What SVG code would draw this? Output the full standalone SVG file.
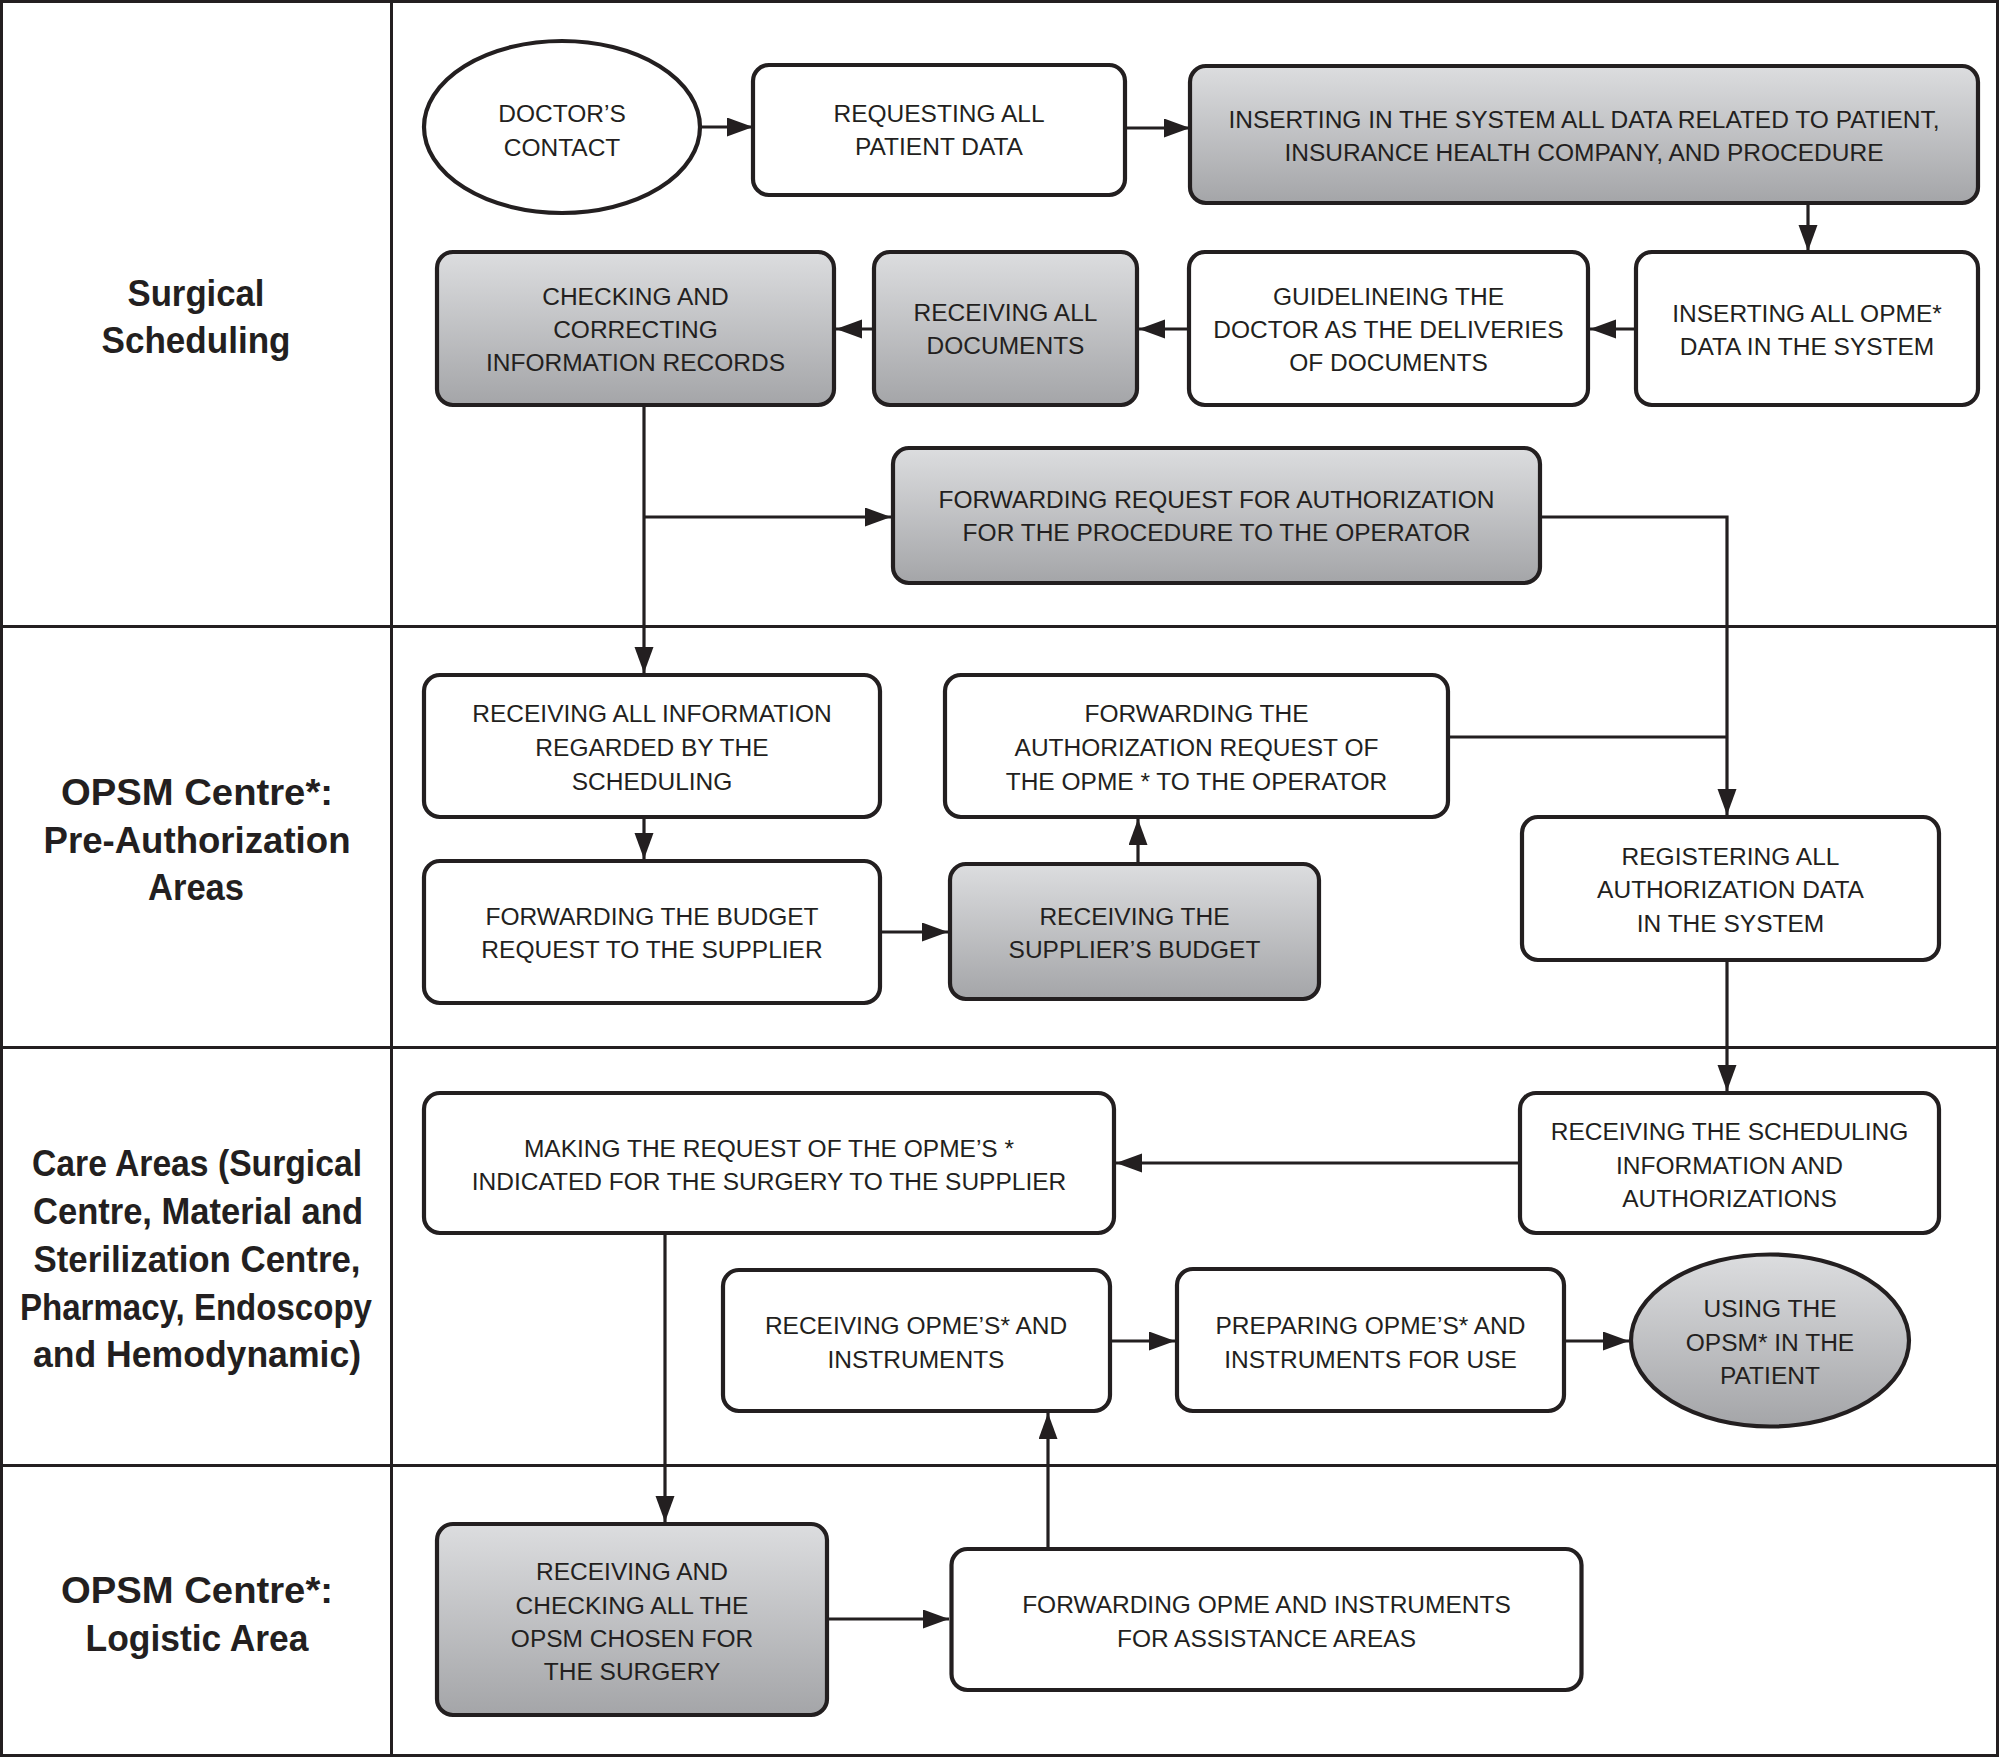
<svg xmlns="http://www.w3.org/2000/svg" width="2000" height="1759" viewBox="0 0 2000 1759">
<defs>
<linearGradient id="gray" x1="0" y1="0" x2="0" y2="1">
<stop offset="0" stop-color="#dcdddf"/>
<stop offset="1" stop-color="#a4a5a8"/>
</linearGradient>
<marker id="arr" markerUnits="userSpaceOnUse" markerWidth="27" markerHeight="20" refX="26" refY="9.5" orient="auto">
<path d="M0,0 L26,9.5 L0,19 z" fill="#231f20"/>
</marker>
<style>
.lane{fill:none;stroke:#231f20;stroke-width:3}
.box{fill:#fff;stroke:#231f20;stroke-width:4.2}
.gbox{fill:url(#gray);stroke:#231f20;stroke-width:4.2}
.t{font-family:"Liberation Sans",Arial,sans-serif;font-size:24.5px;fill:#231f20;text-anchor:middle}
.lbl{font-family:"Liberation Sans",Arial,sans-serif;font-size:37px;font-weight:bold;fill:#231f20;text-anchor:middle}
.c{fill:none;stroke:#231f20;stroke-width:3.2}
.ca{fill:none;stroke:#231f20;stroke-width:3.2;marker-end:url(#arr)}
</style>
</defs>
<rect width="2000" height="1759" fill="#fff"/>
<g id="lanes">
<rect class="lane" x="1.5" y="1.5" width="1996" height="1754"/>
<line class="lane" x1="391.5" y1="1.5" x2="391.5" y2="1755.5"/>
<line class="lane" x1="1.5" y1="626.5" x2="1997.5" y2="626.5"/>
<line class="lane" x1="1.5" y1="1047.5" x2="1997.5" y2="1047.5"/>
<line class="lane" x1="1.5" y1="1465.5" x2="1997.5" y2="1465.5"/>
<text class="lbl" x="196" y="306" textLength="137" lengthAdjust="spacingAndGlyphs">Surgical</text>
<text class="lbl" x="196" y="353" textLength="189" lengthAdjust="spacingAndGlyphs">Scheduling</text>
<text class="lbl" x="197" y="805" textLength="272" lengthAdjust="spacingAndGlyphs">OPSM Centre*:</text>
<text class="lbl" x="197" y="853" textLength="307" lengthAdjust="spacingAndGlyphs">Pre-Authorization</text>
<text class="lbl" x="196" y="900" textLength="96" lengthAdjust="spacingAndGlyphs">Areas</text>
<text class="lbl" x="197" y="1176" textLength="330" lengthAdjust="spacingAndGlyphs">Care Areas (Surgical</text>
<text class="lbl" x="198" y="1224" textLength="330" lengthAdjust="spacingAndGlyphs">Centre, Material and</text>
<text class="lbl" x="197" y="1272" textLength="327" lengthAdjust="spacingAndGlyphs">Sterilization Centre,</text>
<text class="lbl" x="196" y="1320" textLength="352" lengthAdjust="spacingAndGlyphs">Pharmacy, Endoscopy</text>
<text class="lbl" x="197" y="1367" textLength="328" lengthAdjust="spacingAndGlyphs">and Hemodynamic)</text>
<text class="lbl" x="197" y="1603" textLength="272" lengthAdjust="spacingAndGlyphs">OPSM Centre*:</text>
<text class="lbl" x="197" y="1651" textLength="223" lengthAdjust="spacingAndGlyphs">Logistic Area</text>
</g>
<g id="connectors">
<line class="ca" x1="700" y1="127" x2="753" y2="127"/>
<line class="ca" x1="1125" y1="128" x2="1190" y2="128"/>
<line class="ca" x1="1808" y1="203" x2="1808" y2="251"/>
<line class="ca" x1="1636" y1="329" x2="1590" y2="329"/>
<line class="ca" x1="1189" y1="329" x2="1139" y2="329"/>
<line class="ca" x1="874" y1="329" x2="836" y2="329"/>
<line class="ca" x1="644" y1="405" x2="644" y2="673"/>
<line class="ca" x1="644" y1="517" x2="891" y2="517"/>
<polyline class="ca" points="1540,517 1727,517 1727,815"/>
<line class="c" x1="1448" y1="737" x2="1727" y2="737"/>
<line class="ca" x1="644" y1="817" x2="644" y2="859"/>
<line class="ca" x1="880" y1="932" x2="948" y2="932"/>
<line class="ca" x1="1138" y1="864" x2="1138" y2="819"/>
<line class="ca" x1="1727" y1="960" x2="1727" y2="1091"/>
<line class="ca" x1="1520" y1="1163" x2="1116" y2="1163"/>
<line class="ca" x1="665" y1="1233" x2="665" y2="1522"/>
<line class="ca" x1="827" y1="1619" x2="949" y2="1619"/>
<line class="ca" x1="1048" y1="1549" x2="1048" y2="1413"/>
<line class="ca" x1="1110" y1="1341" x2="1175" y2="1341"/>
<line class="ca" x1="1564" y1="1341" x2="1629" y2="1341"/>
</g>
<g id="n_doctor">
<ellipse class="box" cx="562" cy="127" rx="138" ry="86"/>
<text class="t" x="562" y="122">DOCTOR’S</text>
<text class="t" x="562" y="156">CONTACT</text>
</g>
<g id="n_requesting">
<rect class="box" x="753" y="65" width="372" height="130" rx="16"/>
<text class="t" x="939" y="122">REQUESTING ALL</text>
<text class="t" x="939" y="155">PATIENT DATA</text>
</g>
<g id="n_inserting">
<rect class="gbox" x="1190" y="66" width="788" height="137" rx="16"/>
<text class="t" x="1584" y="128">INSERTING IN THE SYSTEM ALL DATA RELATED TO PATIENT,</text>
<text class="t" x="1584" y="161">INSURANCE HEALTH COMPANY, AND PROCEDURE</text>
</g>
<g id="n_opme">
<rect class="box" x="1636" y="252" width="342" height="153" rx="16"/>
<text class="t" x="1807" y="322">INSERTING ALL OPME*</text>
<text class="t" x="1807" y="355">DATA IN THE SYSTEM</text>
</g>
<g id="n_guide">
<rect class="box" x="1189" y="252" width="399" height="153" rx="16"/>
<text class="t" x="1388.5" y="305">GUIDELINEING THE</text>
<text class="t" x="1388.5" y="338">DOCTOR AS THE DELIVERIES</text>
<text class="t" x="1388.5" y="371">OF DOCUMENTS</text>
</g>
<g id="n_recdocs">
<rect class="gbox" x="874" y="252" width="263" height="153" rx="16"/>
<text class="t" x="1005.5" y="321">RECEIVING ALL</text>
<text class="t" x="1005.5" y="354">DOCUMENTS</text>
</g>
<g id="n_checking">
<rect class="gbox" x="437" y="252" width="397" height="153" rx="16"/>
<text class="t" x="635.5" y="305">CHECKING AND</text>
<text class="t" x="635.5" y="338">CORRECTING</text>
<text class="t" x="635.5" y="371">INFORMATION RECORDS</text>
</g>
<g id="n_fwdreq">
<rect class="gbox" x="893" y="448" width="647" height="135" rx="16"/>
<text class="t" x="1216.5" y="508">FORWARDING REQUEST FOR AUTHORIZATION</text>
<text class="t" x="1216.5" y="541">FOR THE PROCEDURE TO THE OPERATOR</text>
</g>
<g id="n_recinfo">
<rect class="box" x="424" y="675" width="456" height="142" rx="16"/>
<text class="t" x="652" y="722">RECEIVING ALL INFORMATION</text>
<text class="t" x="652" y="756">REGARDED BY THE</text>
<text class="t" x="652" y="790">SCHEDULING</text>
</g>
<g id="n_budget">
<rect class="box" x="424" y="861" width="456" height="142" rx="16"/>
<text class="t" x="652" y="925">FORWARDING THE BUDGET</text>
<text class="t" x="652" y="958">REQUEST TO THE SUPPLIER</text>
</g>
<g id="n_supbudget">
<rect class="gbox" x="950" y="864" width="369" height="135" rx="16"/>
<text class="t" x="1134.5" y="925">RECEIVING THE</text>
<text class="t" x="1134.5" y="958">SUPPLIER’S BUDGET</text>
</g>
<g id="n_fwdauth">
<rect class="box" x="945" y="675" width="503" height="142" rx="16"/>
<text class="t" x="1196.5" y="722">FORWARDING THE</text>
<text class="t" x="1196.5" y="756">AUTHORIZATION REQUEST OF</text>
<text class="t" x="1196.5" y="790">THE OPME * TO THE OPERATOR</text>
</g>
<g id="n_register">
<rect class="box" x="1522" y="817" width="417" height="143" rx="16"/>
<text class="t" x="1730.5" y="865">REGISTERING ALL</text>
<text class="t" x="1730.5" y="898">AUTHORIZATION DATA</text>
<text class="t" x="1730.5" y="932">IN THE SYSTEM</text>
</g>
<g id="n_making">
<rect class="box" x="424" y="1093" width="690" height="140" rx="16"/>
<text class="t" x="769" y="1157">MAKING THE REQUEST OF THE OPME’S *</text>
<text class="t" x="769" y="1190">INDICATED FOR THE SURGERY TO THE SUPPLIER</text>
</g>
<g id="n_recsched">
<rect class="box" x="1520" y="1093" width="419" height="140" rx="16"/>
<text class="t" x="1729.5" y="1140">RECEIVING THE SCHEDULING</text>
<text class="t" x="1729.5" y="1174">INFORMATION AND</text>
<text class="t" x="1729.5" y="1207">AUTHORIZATIONS</text>
</g>
<g id="n_recopme">
<rect class="box" x="723" y="1270" width="387" height="141" rx="16"/>
<text class="t" x="916" y="1334">RECEIVING OPME’S* AND</text>
<text class="t" x="916" y="1368">INSTRUMENTS</text>
</g>
<g id="n_prep">
<rect class="box" x="1177" y="1269" width="387" height="142" rx="16"/>
<text class="t" x="1370.5" y="1334">PREPARING OPME’S* AND</text>
<text class="t" x="1370.5" y="1368">INSTRUMENTS FOR USE</text>
</g>
<g id="n_using">
<ellipse class="gbox" cx="1770" cy="1340.5" rx="139" ry="86"/>
<text class="t" x="1770" y="1317">USING THE</text>
<text class="t" x="1770" y="1351">OPSM* IN THE</text>
<text class="t" x="1770" y="1384">PATIENT</text>
</g>
<g id="n_recheck">
<rect class="gbox" x="437" y="1524" width="390" height="191" rx="16"/>
<text class="t" x="632" y="1580">RECEIVING AND</text>
<text class="t" x="632" y="1614">CHECKING ALL THE</text>
<text class="t" x="632" y="1647">OPSM CHOSEN FOR</text>
<text class="t" x="632" y="1680">THE SURGERY</text>
</g>
<g id="n_fwdopme">
<rect class="box" x="951.5" y="1549" width="630" height="141" rx="16"/>
<text class="t" x="1266.5" y="1613">FORWARDING OPME AND INSTRUMENTS</text>
<text class="t" x="1266.5" y="1647">FOR ASSISTANCE AREAS</text>
</g>
</svg>
